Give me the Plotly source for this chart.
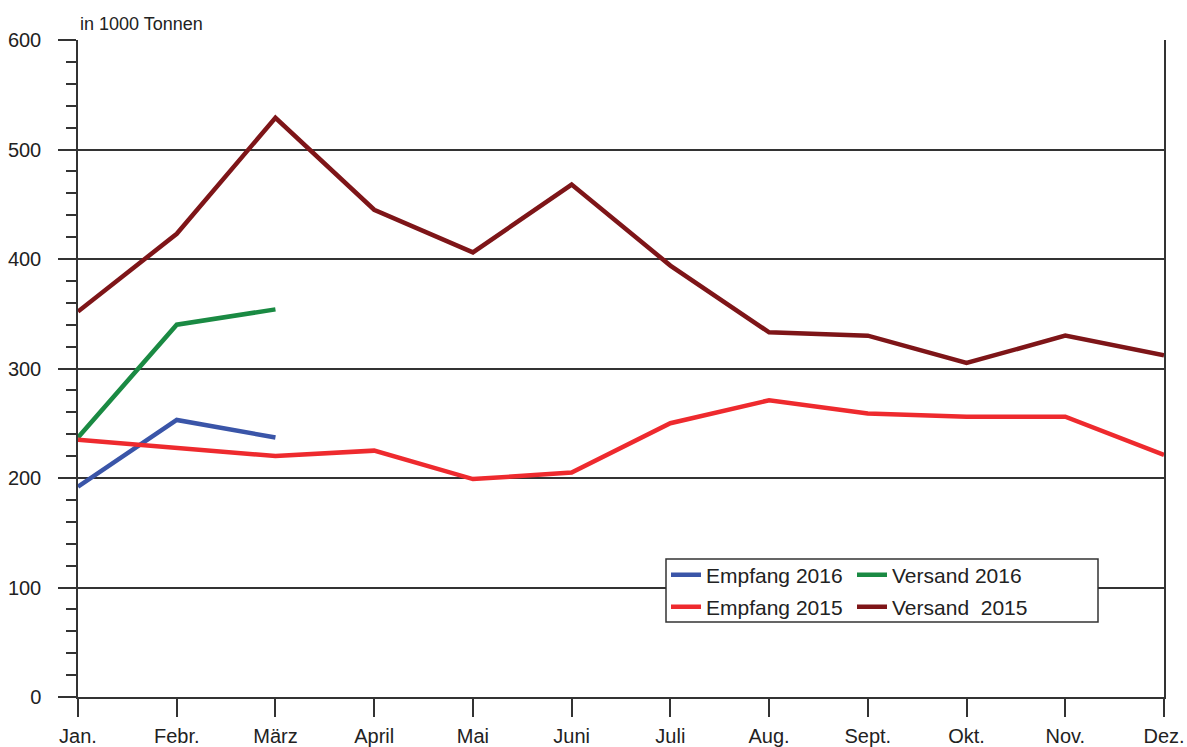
import plotly.graph_objects as go

months = ["Jan.", "Febr.", "März", "April", "Mai", "Juni", "Juli", "Aug.", "Sept.", "Okt.", "Nov.", "Dez."]
empfang_2016 = [192, 253, 237]
versand_2016 = [237, 340, 354]
empfang_2015 = [235, 228, 220, 225, 199, 205, 250, 271, 259, 256, 256, 221]
versand_2015 = [352, 423, 529, 445, 406, 468, 394, 333, 330, 305, 330, 312]
y_ticks = [0, 100, 200, 300, 400, 500, 600]

xi = list(range(len(months)))
FONT = "Liberation Sans, Arial, sans-serif"
AX = "#333333"
TXT = "#222222"

fig = go.Figure()
fig.add_trace(go.Scatter(x=xi[:len(empfang_2016)], y=empfang_2016, mode="lines", name="Empfang 2016",
                         line=dict(color="#3A55A8", width=4.5), legend="legend"))
fig.add_trace(go.Scatter(x=xi[:len(versand_2016)], y=versand_2016, mode="lines", name="Versand 2016",
                         line=dict(color="#1A8A43", width=4.5), legend="legend"))
fig.add_trace(go.Scatter(x=xi, y=empfang_2015, mode="lines", name="Empfang 2015",
                         line=dict(color="#EE2A2E", width=4.5), legend="legend2"))
fig.add_trace(go.Scatter(x=xi, y=versand_2015, mode="lines", name="Versand  2015",
                         line=dict(color="#7E1518", width=4.5), legend="legend2"))

W, H = 1187, 747
L, R, T, B = 78, 23, 40, 50
PW, PH = W - L - R, H - T - B


def px_x(p):
    return (p - L) / PW


def px_y(p):
    return (H - B - p) / PH


# legend box
fig.add_shape(type="rect", xref="paper", yref="paper",
              x0=px_x(666), x1=px_x(1098), y0=px_y(622), y1=px_y(559),
              line=dict(color=AX, width=1.5), fillcolor="white", layer="above")

leg_common = dict(orientation="h", bgcolor="rgba(0,0,0,0)", borderwidth=0,
                  font=dict(family=FONT, size=21, color=TXT),
                  entrywidth=141, entrywidthmode="pixels", itemwidth=30,
                  xanchor="left", yanchor="middle", traceorder="normal")

fig.update_layout(
    width=W, height=H,
    margin=dict(l=L, r=R, t=T, b=B),
    plot_bgcolor="white", paper_bgcolor="white",
    font=dict(family=FONT, size=20, color=TXT),
    showlegend=True,
    legend=dict(x=px_x(666), y=px_y(575), **leg_common),
    legend2=dict(x=px_x(666), y=px_y(607), **leg_common),
    xaxis=dict(
        range=[0, len(months) - 1], tickmode="array", tickvals=xi, ticktext=months,
        showgrid=False, zeroline=False, showline=True, linecolor=AX, linewidth=1.5,
        ticks="outside", ticklen=18, tickwidth=1.5, tickcolor=AX, automargin=False,
        ticklabelstandoff=2,
        tickfont=dict(family=FONT, size=20, color=TXT),
    ),
    yaxis=dict(
        range=[0, 600], tickmode="array", tickvals=y_ticks, ticktext=[str(v) for v in y_ticks],
        showgrid=True, gridcolor=AX, gridwidth=1.5, zeroline=False,
        showline=True, mirror=True, linecolor=AX, linewidth=1.5,
        ticks="outside", ticklen=18, tickwidth=1.5, tickcolor=AX, automargin=False,
        ticklabelstandoff=13,
        tickfont=dict(family=FONT, size=20, color=TXT),
        minor=dict(dtick=20, tick0=0, ticks="outside", ticklen=10, tickwidth=1.5,
                   tickcolor=AX, showgrid=False),
    ),
    annotations=[dict(text="in 1000 Tonnen", xref="paper", yref="paper",
                      x=0, y=1, xanchor="left", yanchor="bottom", yshift=4,
                      showarrow=False, font=dict(family=FONT, size=18, color=TXT))],
)

fig.write_html("out.html", config={"displayModeBar": False},
               post_script="document.body.style.margin='0';document.body.style.overflow='hidden';")
